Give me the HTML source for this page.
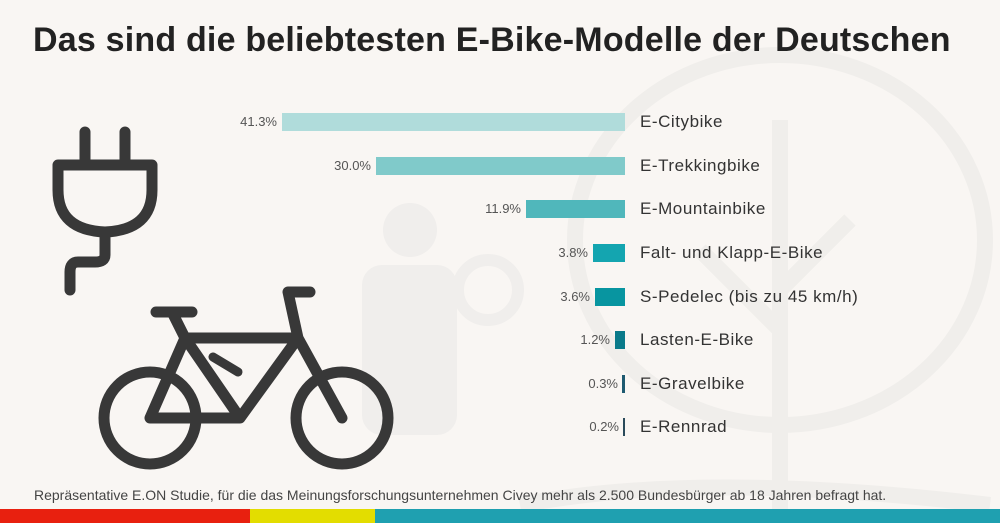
<!DOCTYPE html>
<html><head><meta charset="utf-8"><style>
body{margin:0;width:1000px;height:523px;background:#f9f6f3;position:relative;overflow:hidden;font-family:"Liberation Sans",sans-serif}
h1{position:absolute;left:33px;top:21px;margin:0;font-size:34px;font-weight:bold;color:#222;letter-spacing:0.2px}
.bar{position:absolute;height:18px}
.pct{position:absolute;font-size:13px;color:#555;text-align:right;width:60px}
.lab{position:absolute;left:640px;font-size:17px;color:#333;letter-spacing:0.55px}
.foot{position:absolute;left:34px;top:487px;font-size:14px;color:#444}
.s{position:absolute;top:509px;height:14px}
</style></head><body>
<svg width="1000" height="523" style="position:absolute;left:0;top:0">
<g fill="none" stroke="#f0eeeb" stroke-width="16">
<ellipse cx="780" cy="240" rx="205" ry="185"/>
<path d="M780 120 V510 M780 330 L700 250 M780 290 L850 220"/>
<path d="M520 505 Q700 470 990 505"/>
</g>
<g fill="#f0eeec">
<circle cx="410" cy="230" r="27"/>
<rect x="362" y="265" width="95" height="170" rx="20"/>
</g>
<circle cx="488" cy="290" r="30" fill="none" stroke="#f0eeec" stroke-width="12"/>
<g fill="none" stroke="#383838" stroke-width="11" stroke-linecap="round" stroke-linejoin="round">
<path d="M85 132 V165 M125 132 V165"/>
<path d="M58 165 H152 V190 Q152 230 105 232 Q58 230 58 190 Z"/>
<path d="M105 232 V255 Q105 262 95 262 H78 Q70 262 70 272 V290"/>
<circle cx="150" cy="418" r="46"/>
<circle cx="342" cy="418" r="46"/>
<path d="M150 418 L185 338 L298 338 L342 418 M185 338 L240 418 L298 338 M240 418 H150 M298 338 L288 292 L310 292 M185 338 L172 312 M156 312 H192"/>
</g>
<path d="M213 357 L238 372" stroke="#383838" stroke-width="9" stroke-linecap="round"/>
</svg>
<h1>Das sind die beliebtesten E-Bike-Modelle der Deutschen</h1>

<div class="pct" style="left:217px;top:114px">41.3%</div><div class="bar" style="left:282px;width:343px;top:113px;background:#b0dcdb"></div><div class="lab" style="top:112px">E-Citybike</div>
<div class="pct" style="left:311px;top:158px">30.0%</div><div class="bar" style="left:376px;width:249px;top:157px;background:#80caca"></div><div class="lab" style="top:156px">E-Trekkingbike</div>
<div class="pct" style="left:461px;top:201px">11.9%</div><div class="bar" style="left:526px;width:99px;top:200px;background:#50b7bb"></div><div class="lab" style="top:199px">E-Mountainbike</div>
<div class="pct" style="left:528px;top:245px">3.8%</div><div class="bar" style="left:593px;width:32px;top:244px;background:#14a5b0"></div><div class="lab" style="top:243px">Falt- und Klapp-E-Bike</div>
<div class="pct" style="left:530px;top:289px">3.6%</div><div class="bar" style="left:595px;width:30px;top:288px;background:#0895a0"></div><div class="lab" style="top:287px">S-Pedelec (bis zu 45 km/h)</div>
<div class="pct" style="left:550px;top:332px">1.2%</div><div class="bar" style="left:615px;width:10px;top:331px;background:#0a7a8a"></div><div class="lab" style="top:330px">Lasten-E-Bike</div>
<div class="pct" style="left:558px;top:376px">0.3%</div><div class="bar" style="left:622px;width:3px;top:375px;background:#1e5a70"></div><div class="lab" style="top:374px">E-Gravelbike</div>
<div class="pct" style="left:559px;top:419px">0.2%</div><div class="bar" style="left:623px;width:2px;top:418px;background:#2a4a5a"></div><div class="lab" style="top:417px">E-Rennrad</div>

<div class="foot">Repräsentative E.ON Studie, für die das Meinungsforschungsunternehmen Civey mehr als 2.500 Bundesbürger ab 18 Jahren befragt hat.</div>
<div class="s" style="left:0;width:250px;background:#e8200f"></div>
<div class="s" style="left:250px;width:125px;background:#e3dd00"></div>
<div class="s" style="left:375px;width:625px;background:#1fa0b0"></div>
</body></html>
